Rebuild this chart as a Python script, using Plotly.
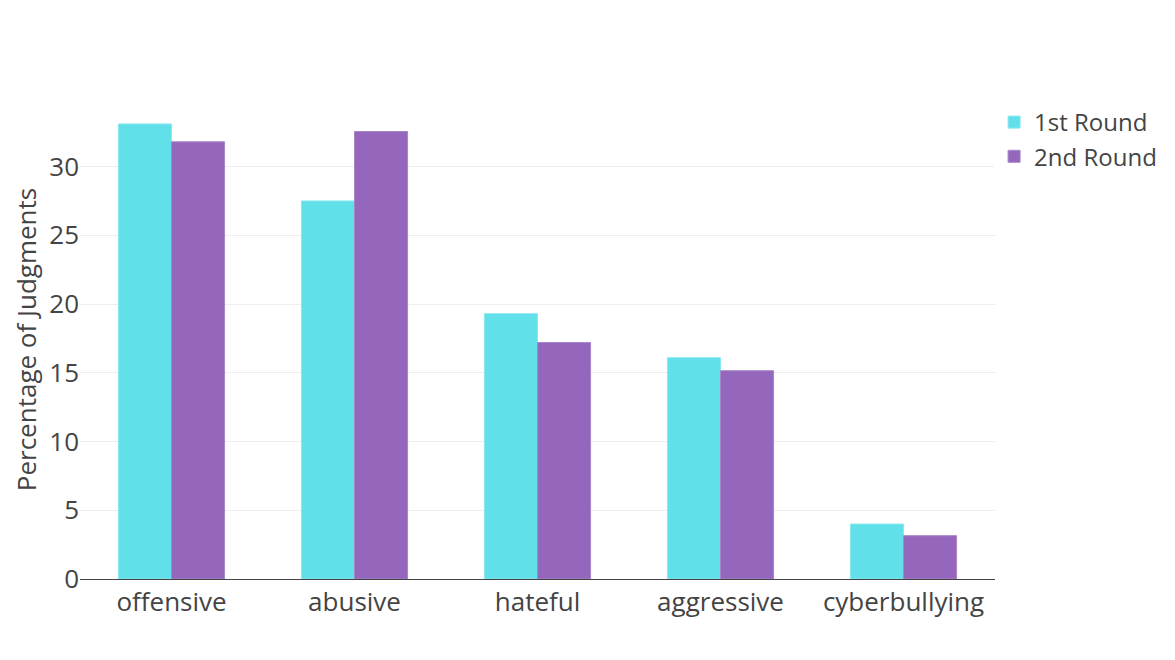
import plotly.graph_objects as go

categories = ["offensive", "abusive", "hateful", "aggressive", "cyberbullying"]
round1 = [33.1, 27.5, 19.3, 16.1, 4.0]
round2 = [31.8, 32.55, 17.2, 15.15, 3.15]

fig = go.Figure()
fig.add_trace(go.Bar(
    x=categories, y=round1, name="1st Round",
    marker=dict(color="#61e0ea", line=dict(color="#8ae8ef", width=1)),
))
fig.add_trace(go.Bar(
    x=categories, y=round2, name="2nd Round",
    marker=dict(color="#9467bd", line=dict(color="#a785c9", width=1)),
))

fig.update_layout(
    template="none",
    width=1175, height=660,
    barmode="group",
    bargap=0.42,
    font=dict(family="Open Sans", size=22, color="#444"),
    plot_bgcolor="white",
    paper_bgcolor="white",
    margin=dict(l=72, r=188, t=92, b=89),
    xaxis=dict(showline=True, linecolor="#444", linewidth=1, showgrid=False, ticks="",
               tickfont=dict(size=26)),
    yaxis=dict(
        title=dict(text="Percentage of Judgments", font=dict(size=26)),
        gridcolor="#eeeeee", zeroline=False, ticks="", tickfont=dict(size=26),
    ),
    legend=dict(font=dict(size=24), x=0.999, y=1),
)

fig.write_html("out.html")
